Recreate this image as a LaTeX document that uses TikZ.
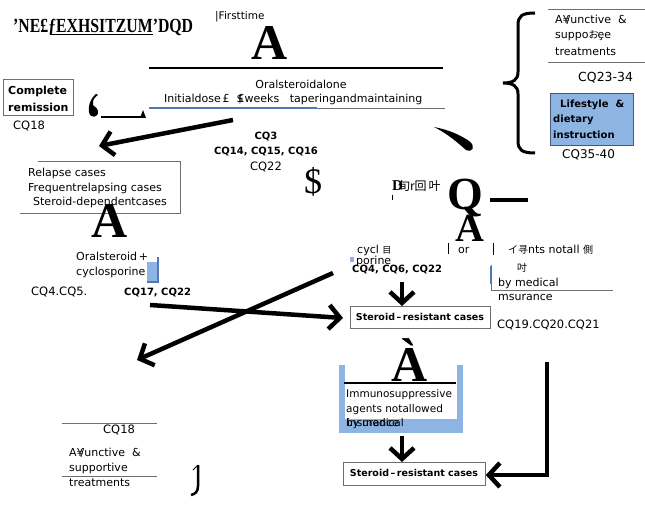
\documentclass[tikz,border=0pt]{standalone}
\usepackage{fontspec}
\setmainfont{DejaVu Sans}
\newfontfamily\cjk{Noto Sans CJK JP}
\newfontfamily\serifglyph{Liberation Serif}
\usetikzlibrary{arrows.meta}
\definecolor{lblue}{RGB}{142,180,227}
\definecolor{bborder}{RGB}{70,90,120}
\definecolor{rulegray}{RGB}{110,110,110}
\definecolor{lineblue}{RGB}{80,120,180}
\tikzset{
  txt/.style={inner sep=0pt, anchor=west, font=\fontsize{11}{13}\selectfont},
  cq/.style={inner sep=0pt, anchor=west, font=\fontsize{11.5}{13}\selectfont},
  cqb/.style={inner sep=0pt, font=\bfseries\fontsize{10}{12}\selectfont},
  bigarrow/.style={line width=4.5pt, -{Straight Barb[length=11pt,width=24pt]}},
  casebox/.style={draw=rulegray, line width=0.8pt, inner sep=0pt, anchor=north west},
  casetxt/.style={inner sep=0pt, font=\bfseries\fontsize{9.5}{12}\selectfont},
  glyph/.style={inner sep=0pt, font=\serifglyph\bfseries\fontsize{50}{50}\selectfont},
  rule/.style={draw=rulegray, line width=0.8pt},
}
\begin{document}
\begin{tikzpicture}[x=1pt,y=-1pt]
\useasboundingbox (0,0) rectangle (645,505);
\fill[white] (0,0) rectangle (645,505);

% ---------- title area
\node[inner sep=0pt, anchor=west, font=\serifglyph\bfseries\fontsize{20}{20}\selectfont] (title) at (13,27) {\scalebox{0.79}[1]{’NE£ƒEXHSITZUM’DQD}};
\draw[line width=0.8pt] (50,34) -- (153,34);
\node[txt, font=\fontsize{10.5}{12}\selectfont] (first) at (215,17) {|Firsttime};
\node[glyph] (gA1) at (270,43) {A};

% ---------- oral steroid alone
\draw[line width=2pt] (149,68) -- (443,68);
\node[inner sep=0pt, font=\fontsize{11}{13}\selectfont] (oral) at (301,84) {Oralsteroidalone};
\node[txt] (init) at (164,99) {Initialdose\,£\ \ \$\kern-6pt£weeks\ \ \ taperingandmaintaining};
\draw[rule] (317,108) -- (445,108);
\draw[draw=lineblue, line width=1.2pt] (149,108) -- (317,108);

% ---------- complete remission
\node[casebox, minimum width=70pt, minimum height=36pt] (cr) at (3,79) {};
\node[casetxt, anchor=west, font=\bfseries\fontsize{11}{12}\selectfont] (cr1) at (8,91) {Complete};
\node[casetxt, anchor=west, font=\bfseries\fontsize{11}{12}\selectfont] (cr2) at (8,107) {remission};
\node[cq] (cq18a) at (13,126) {CQ18};
\fill (96,94) .. controls (90,99) and (88,106) .. (89,112) .. controls (90,119) and (99,118) .. (98,111) .. controls (97,106) and (92,107) .. (93,103) .. controls (93,99) and (95,97) .. (98,95) -- cycle;
\draw[line width=2pt] (101,117) -- (145,117);
\fill (140,118) -- (143,110) -- (146,118) -- cycle;

% arrow to relapse
\coordinate (a1s) at (233,120);
\coordinate (a1e) at (99,146);
\draw[bigarrow] (a1s) -- (a1e);

\node[cqb] (cq3) at (266,137) {CQ3};
\node[cqb] (cq14) at (266,152) {CQ14, CQ15, CQ16};
\node[inner sep=0pt, font=\fontsize{11.5}{13}\selectfont] (cq22a) at (266,167) {CQ22};
\node[inner sep=0pt, font=\serifglyph\fontsize{36}{36}\selectfont] (dollar) at (313,182) {\$};

% ---------- right brace and treatments
\draw[line width=3pt] (535,13) .. controls (522,13) and (518,16) .. (518,25) -- (518,72) .. controls (518,80) and (513,83) .. (503,83) .. controls (513,83) and (518,86) .. (518,94) -- (518,141) .. controls (518,150) and (522,153) .. (535,153);
\draw[rule] (548,9) -- (645,9);
\node[txt] (adj1) at (555,20) {A¥\kern-3pt/unctive \ \&};
\node[txt] (adj2) at (555,36) {suppo{\cjk\fontsize{10}{10}\selectfont お}\kern-1pt ȩe};
\node[txt] (adj3) at (555,52) {treatments};
\draw[rule] (548,62) -- (645,62);
\node[cq, font=\fontsize{12.5}{13}\selectfont] (cq2334) at (578,78) {CQ23-34};
\node[draw=bborder, fill=lblue, line width=0.8pt, inner sep=0pt, anchor=north west, minimum width=83pt, minimum height=52pt] (life) at (550,93) {};
\node[casetxt, anchor=west, font=\bfseries\fontsize{10}{12}\selectfont] (life1) at (560,105) {Lifestyle \ \&};
\node[casetxt, anchor=west, font=\bfseries\fontsize{10}{12}\selectfont] (life2) at (553,120) {dietary};
\node[casetxt, anchor=west, font=\bfseries\fontsize{10}{12}\selectfont] (life3) at (553,135) {instruction};
\node[cq, font=\fontsize{12}{13}\selectfont] (cq3540) at (562,155) {CQ35-40};

% tapered stroke
\fill (434,127) .. controls (450,130) and (462,136) .. (469,141) .. controls (476,146) and (473,153) .. (466,150) .. controls (458,143) and (448,134) .. (434,127) -- cycle;

% ---------- relapse box
\draw[rule] (38,161) -- (180,161) -- (180,213) -- (20,213);
\node[txt] (rel1) at (28,173) {Relapse cases};
\node[txt] (rel2) at (28,188) {Frequentrelapsing cases};
\node[txt] (rel3) at (33,202) {Steroid-dependentcases};
\node[glyph] (gA2) at (110,221) {A};

\node[txt] (os1) at (76,256) {Oralsteroid\,+};
\node[txt] (os2) at (76,272) {cyclosporine};
\fill[lblue] (147,262) rectangle (158,282);
\draw[draw=lineblue, line width=1.2pt] (158,257) -- (158,282) -- (147,282);
\node[cq] (cq45) at (31,292) {CQ4.CQ5.};
\node[cqb, anchor=west] (cq1722) at (124,293) {CQ17, CQ22};

% ---------- middle right garbled
\node[inner sep=0pt, anchor=west] (dr) at (392,186) {{\serifglyph\bfseries\fontsize{15}{15}\selectfont D}\kern-5pt{\cjk\fontsize{12}{12}\selectfont 旬r回\,叶}};
\draw[line width=0.6pt] (392,195) -- (392,200);
\node[inner sep=0pt, font=\serifglyph\bfseries\fontsize{46}{46}\selectfont] (gQ) at (465,198) {Q};
\node[inner sep=0pt, font=\serifglyph\bfseries\fontsize{40}{40}\selectfont] (gA3) at (470,224) {À};
\draw[line width=4pt] (490,200) -- (528,200);

\node[txt] (cycl) at (357,250) {cycl {\cjk\fontsize{9}{9}\selectfont 目}};
\draw[line width=0.8pt] (448,243) -- (448,254);
\node[txt] (or) at (458,250) {or};
\draw[line width=0.8pt] (493,243) -- (493,255);
\node[txt] (ents) at (508,250) {{\cjk\fontsize{10}{10}\selectfont イ寻}nts notall {\cjk\fontsize{10}{10}\selectfont 側}};
\fill[lblue] (350,257) rectangle (354,262);
\node[txt] (porine) at (356,261) {porine};
\node[cqb, anchor=west] (cq4622) at (352,270) {CQ4, CQ6, CQ22};
\node[inner sep=0pt, font=\cjk\fontsize{10}{10}\selectfont] (cun) at (522,268) {吋};
\draw[rule] (491,265) -- (491,290) -- (613,290);
\draw[draw=lineblue, line width=1.2pt] (491,266) -- (491,284);
\node[txt] (bymed) at (498,283) {by medical};
\node[txt] (msur) at (498,297) {msurance};

% ---------- steroid resistant 1
\node[casebox, minimum width=140pt, minimum height=22pt] (sr1) at (350,306) {};
\node[casetxt] (sr1t) at (420,317) {Steroid\,–\,resistant cases};
\coordinate (a2s) at (402,282);
\draw[bigarrow] (a2s) -- (sr1.north -| a2s);
\node[cq] (cq1921) at (497,325) {CQ19.CQ20.CQ21};

% crossing arrows
\coordinate (a3s) at (150,305);
\coordinate (a3e) at (343,318);
\draw[bigarrow] (a3s) -- (a3e);
\coordinate (a4s) at (333,273);
\coordinate (a4e) at (137,360);
\draw[bigarrow] (a4s) -- (a4e);

% ---------- immunosuppressive container
\fill[lblue] (339,365) rectangle (463,433);
\fill[white] (345,365) rectangle (457,419);
\node[glyph] (gA4) at (410,360) {À};
\draw[line width=1.2pt] (344,383) -- (456,383);
\node[inner sep=0pt, anchor=west, font=\fontsize{10.5}{12}\selectfont] (imm1) at (346,395) {Immunosuppressive};
\node[inner sep=0pt, anchor=west, font=\fontsize{10.5}{12}\selectfont] (imm2) at (346,410) {agents notallowed};
\node[inner sep=0pt, anchor=west, font=\fontsize{10.5}{12}\selectfont] (imm3) at (346,424) {by medical};
\node[inner sep=0pt, anchor=west, font=\fontsize{10.5}{12}\selectfont] (imm4) at (347,423) {insurance};

% ---------- steroid resistant 2
\node[casebox, minimum width=142pt, minimum height=23pt] (sr2) at (343,462) {};
\node[casetxt] (sr2t) at (414,473) {Steroid\,–\,resistant cases};
\coordinate (a5s) at (402,436);
\draw[bigarrow] (a5s) -- (sr2.north -| a5s);
\coordinate (a6s) at (547,362);
\coordinate (a6c) at (547,475);
\draw[bigarrow] (a6s) -- (a6c) -- (sr2.east |- a6c);

% ---------- lower left
\draw[rule] (62,423) -- (157,423);
\node[cq] (cq18b) at (103,430) {CQ18};
\node[txt] (adjb1) at (69,453) {A¥\kern-3pt/unctive \ \&};
\node[txt] (adjb2) at (69,468) {supportive};
\draw[rule] (62,476) -- (157,476);
\node[txt] (adjb3) at (69,483) {treatments};
\draw[line width=2.5pt] (198,465) -- (198,486) .. controls (198,492) and (195,494) .. (191,495);
\draw[line width=1pt] (193,470) -- (198,465);
\end{tikzpicture}
\end{document}
